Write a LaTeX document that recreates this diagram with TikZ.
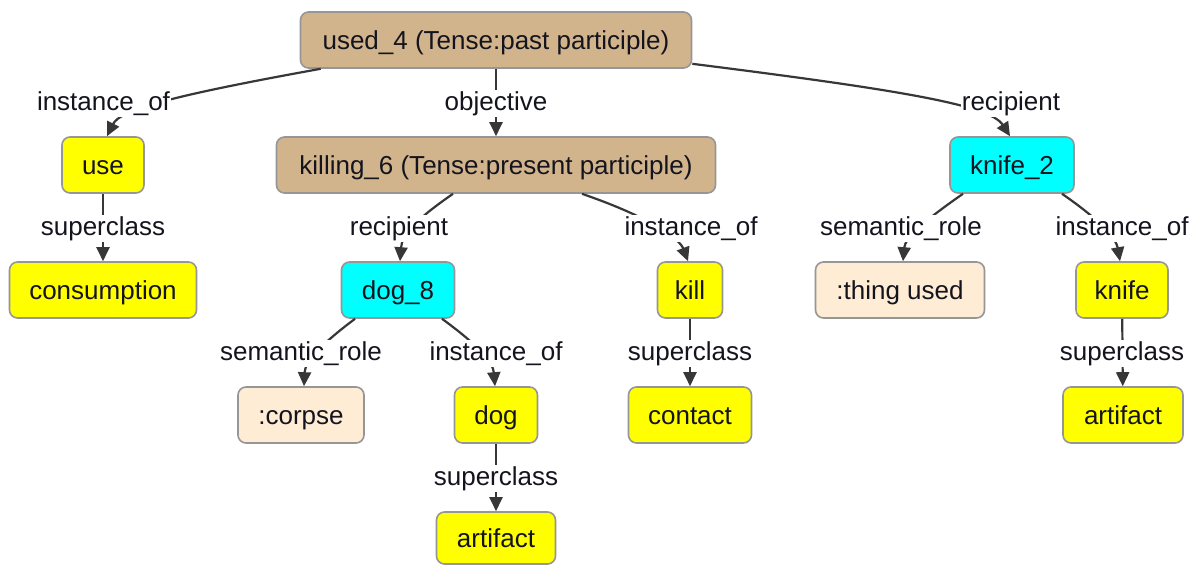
\documentclass[tikz,border=0pt]{standalone}
\usepackage{fontspec}
\setmainfont{Liberation Sans}
\usetikzlibrary{arrows.meta}
\definecolor{tanbox}{RGB}{210,180,140}
\definecolor{ybox}{RGB}{255,255,0}
\definecolor{cbox}{RGB}{0,255,255}
\definecolor{pbox}{RGB}{254,236,212}
\definecolor{bord}{RGB}{150,150,150}
\definecolor{edgec}{RGB}{55,55,55}
\definecolor{txt}{RGB}{20,20,30}
\tikzset{
  box/.style={draw=bord, line width=1.6pt, rounded corners=8pt, minimum height=56pt,
    inner sep=0pt, text height=18.6pt, text depth=0pt,
    font=\fontsize{26}{30}\selectfont, text=txt},
  tanb/.style={box, fill=tanbox},
  yb/.style={box, fill=ybox},
  cb/.style={box, fill=cbox},
  pb/.style={box, fill=pbox},
  lbl/.style={fill=white, inner xsep=1pt, inner ysep=1pt, text height=19pt, text depth=6pt,
    font=\fontsize{26}{30}\selectfont, text=txt},
  edge/.style={draw=edgec, line width=2.2pt, -{Triangle[length=14pt,width=13pt]}},
}
\begin{document}
\begin{tikzpicture}[x=1pt,y=-1pt]
\useasboundingbox[fill=white] (0,0) rectangle (1193,565);
% boxes
\node[tanb, minimum width=391pt] (used4) at (496,40) {used\_4 (Tense:past participle)};
\node[yb, minimum width=82pt] (use) at (103,165) {use};
\node[tanb, minimum width=439pt] (killing6) at (496,165) {killing\_6 (Tense:present participle)};
\node[cb, minimum width=124pt] (knife2) at (1012,165) {knife\_2};
\node[yb, minimum width=187pt] (consumption) at (103,290) {consumption};
\node[cb, minimum width=113pt] (dog8) at (398,290) {dog\_8};
\node[yb, minimum width=65pt] (kill) at (690,290) {kill};
\node[pb, minimum width=169pt] (thing) at (900,290) {:thing used};
\node[yb, minimum width=92pt] (knife) at (1122,290) {knife};
\node[pb, minimum width=126pt] (corpse) at (301,415) {:corpse};
\node[yb, minimum width=83pt] (dog) at (496,415) {dog};
\node[yb, minimum width=123pt] (contact) at (690,415) {contact};
\node[yb, minimum width=120pt] (artifact1) at (1123,415) {artifact};
\node[yb, minimum width=119pt, minimum height=52pt] (artifact2) at (496,538) {artifact};
% edges
\draw[edge] ([xshift=21pt]used4.south west) .. controls (170,96) and (120,110) .. ([xshift=4pt]use.north);
\draw[edge] (used4) -- (killing6);
\draw[edge] ([yshift=5pt]used4.south east) .. controls (900,90) and (990,105) .. ([xshift=-2pt]knife2.north);
\draw[edge] (use) -- (consumption);
\draw[edge] ([xshift=-43pt]killing6.south) .. controls (415,220) and (402,235) .. ([xshift=2pt]dog8.north);
\draw[edge] ([xshift=86pt]killing6.south) .. controls (655,219) and (680,240) .. ([xshift=-2pt]kill.north);
\draw[edge] ([xshift=-49pt]knife2.south) .. controls (925,220) and (905,238) .. ([xshift=3pt]thing.north);
\draw[edge] ([xshift=50pt]knife2.south) .. controls (1100,220) and (1116,238) .. ([xshift=-2pt]knife.north);
\draw[edge] ([xshift=-43pt]dog8.south) .. controls (320,345) and (305,362) .. ([xshift=3pt]corpse.north);
\draw[edge] ([xshift=44pt]dog8.south) .. controls (478,345) and (493,362) .. ([xshift=-1pt]dog.north);
\draw[edge] (kill) -- (contact);
\draw[edge] (dog) -- (artifact2);
\draw[edge] (knife) -- (artifact1);
% labels
\node[lbl] (l1) at (103.5,103.5) {instance\_of};
\node[lbl] (l2) at (496,103.5) {objective};
\node[lbl] (l3) at (1011,103.5) {recipient};
\node[lbl] (l4) at (103,228.5) {superclass};
\node[lbl] (l5) at (399,228.5) {recipient};
\node[lbl] (l6) at (691,228.5) {instance\_of};
\node[lbl] (l7) at (901,228.5) {semantic\_role};
\node[lbl] (l8) at (1122,228.5) {instance\_of};
\node[lbl] (l9) at (301,353.5) {semantic\_role};
\node[lbl] (l10) at (496,353.5) {instance\_of};
\node[lbl] (l11) at (690,353.5) {superclass};
\node[lbl] (l12) at (1122,353.5) {superclass};
\node[lbl] (l13) at (496,478.5) {superclass};
\end{tikzpicture}
\end{document}
